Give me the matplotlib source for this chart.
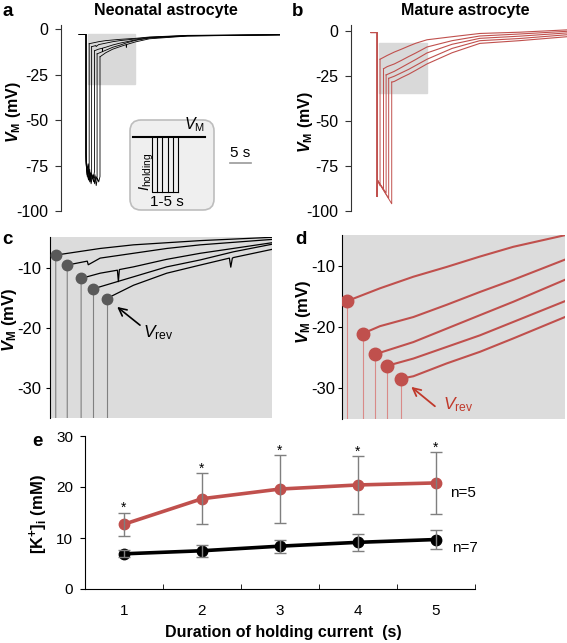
import numpy as np
import matplotlib
matplotlib.use("Agg")
import matplotlib.pyplot as plt
from matplotlib.patches import Rectangle, FancyBboxPatch

plt.rcParams['font.family'] = ['Liberation Sans', 'DejaVu Sans']
plt.rcParams['axes.unicode_minus'] = False
plt.rcParams['mathtext.fontset'] = 'custom'
plt.rcParams['mathtext.rm'] = 'Liberation Sans'
plt.rcParams['mathtext.it'] = 'Liberation Sans:italic'
plt.rcParams['mathtext.bf'] = 'Liberation Sans:bold'
plt.rcParams['mathtext.bfit'] = 'Liberation Sans:bold:italic'

RED = '#C0504D'

# ---- neonatal astrocyte (panels a, c): time in s, voltage in mV
neo_start = 4.3
neo_onset = 5.94
neo_base = -2.8
neo_bottom = [
    [-68, -78, -74, -80],
    [-70, -80, -76, -83, -79, -81],
    [-72, -79, -82, -77, -84, -80, -82, -78],
    [-73, -81, -78, -84, -79, -82, -80, -85, -81, -83],
    [-74, -80, -83, -79, -85, -81, -84, -80, -86, -82, -84, -81],
]
neo_rec_t = [
    [6.69, 8.93, 10.61, 12.29, 13.98, 17.6, 21, 30, 52],
    [7.27, 8.28, 8.33, 8.93, 10.61, 12.29, 13.98, 17.6, 21, 30, 52],
    [7.97, 8.93, 9.8, 9.85, 9.9, 10.61, 12.29, 13.98, 17.6, 21, 30, 52],
    [8.57, 10.61, 12.29, 13.98, 15.66, 17.6, 21, 30, 52],
    [9.26, 10.61, 12.29, 13.98, 15.45, 15.52, 15.6, 15.66, 17.6, 21, 30, 52],
]
neo_rec_v = [
    [-7.9, -6.8, -6.2, -5.85, -5.5, -4.95, -4.2, -3.3, -2.9],
    [-9.55, -8.9, -9.5, -8.4, -7.6, -6.8, -6.2, -5.3, -4.4, -3.4, -3.0],
    [-11.76, -10.9, -10.4, -12.3, -10.3, -9.85, -8.6, -7.6, -5.85, -4.6, -3.5, -3.0],
    [-13.5, -11.5, -9.85, -8.7, -7.35, -6.1, -4.8, -3.6, -3.0],
    [-15.1, -12.9, -10.9, -9.55, -8.4, -9.9, -8.4, -8.3, -6.95, -5.2, -3.7, -3.0],
]

# ---- mature astrocyte (panels b, d)
mat_start = 4.75
mat_onset = 6.2
mat_base = -1.0
mat_bottom_start = [-92, -83]
mat_bottom_end = [-86, -88, -90, -93, -96]
mat_rec_t = [
    [6.9, 8.59, 10.3, 12.0, 13.7, 15.41, 18.05, 24, 30.6, 40, 51.3],
    [7.72, 8.59, 10.3, 12.0, 13.7, 15.41, 18.05, 24, 30.6, 40, 51.3],
    [8.34, 10.3, 12.0, 13.7, 15.41, 18.05, 24, 30.6, 40, 51.3],
    [8.95, 10.3, 12.0, 13.7, 15.41, 18.05, 24, 30.6, 40, 51.3],
    [9.67, 10.3, 12.0, 13.7, 15.41, 18.05, 24, 30.6, 40, 51.3],
]
mat_rec_v = [
    [-15.8, -13.7, -11.8, -10.2, -8.5, -6.9, -5.0, -3.3, -1.5, -0.8, 0.5],
    [-21.1, -19.9, -18.4, -16.4, -14.3, -12.3, -9.0, -5.5, -2.9, -1.8, -0.3],
    [-24.5, -22.5, -20.3, -18.1, -15.9, -12.3, -7.5, -4.2, -3.0, -1.2],
    [-26.4, -25.2, -23.3, -21.4, -19.2, -15.8, -9.8, -5.5, -4.3, -2.2],
    [-28.5, -28.1, -26.0, -24.1, -21.9, -18.4, -12.2, -7.0, -5.5, -3.3],
]

# ---- panel e
duration = [1, 2, 3, 4, 5]
mature_k = [12.7, 17.7, 19.6, 20.4, 20.8]
mature_err = [2.3, 5.0, 6.7, 5.6, 6.1]
neonatal_k = [6.9, 7.5, 8.4, 9.15, 9.7]
neonatal_err = [0.7, 1.2, 1.3, 1.7, 1.85]

W, H = 567, 643
fig = plt.figure(figsize=(W / 100, H / 100), dpi=100)


def add_ax(left, top, right, bottom):
    return fig.add_axes([left / W, 1 - bottom / H, (right - left) / W, (bottom - top) / H])


def only_left(ax, color='#333333'):
    for s in ['top', 'right', 'bottom']:
        ax.spines[s].set_visible(False)
    ax.spines['left'].set_color(color)
    ax.set_xticks([])


def neo_traces(ax, step_color, step_lw, rec_lw):
    for k in range(5):
        off = neo_rec_t[k][0]
        bot = neo_bottom[k]
        st = [neo_start, neo_onset] + list(np.linspace(neo_onset, off, len(bot))) + [off]
        sv = [neo_base, neo_base] + bot + [neo_rec_v[k][0]]
        ax.plot(st, sv, color=step_color, lw=step_lw)
        ax.plot(neo_rec_t[k], neo_rec_v[k], color='k', lw=rec_lw)


def mat_traces(ax, step_color, step_lw, rec_lw):
    for k in range(5):
        off = mat_rec_t[k][0]
        st = [mat_start, mat_onset, mat_onset, mat_onset + 0.1, off, off]
        sv = [mat_base, mat_base] + mat_bottom_start + [mat_bottom_end[k], mat_rec_v[k][0]]
        ax.plot(st, sv, color=step_color, lw=step_lw)
        ax.plot(mat_rec_t[k], mat_rec_v[k], color=RED, lw=rec_lw)


ylab = r'$\mathbfit{V}_{\mathbf{M}}$ (mV)'

# ---------------- a
ax = add_ax(61, 25, 280, 211)
ax.set_xlim(0, 52)
ax.set_ylim(-100, 2.4)
only_left(ax)
ax.set_yticks([0, -25, -50, -75, -100])
ax.tick_params(axis='y', labelsize=11.5, length=4.3, pad=5, color='#333333')
ax.add_patch(Rectangle((6.4, -30.1), 11.2, 27.5, color='#d9d9d9', zorder=0))
neo_traces(ax, 'k', 0.6, 0.6)
ax.plot([40.1, 45.1], [-73.6, -73.6], color='#999999', lw=1.2)
ax.text(42.6, -67.9, '5 s', ha='center', va='center', fontsize=11)
ax.set_ylabel(ylab, fontsize=11.5, fontweight='bold')
ax.yaxis.set_label_coords(-0.174, 0.53)

# inset schematic
axi = add_ax(128, 118, 216, 212)
axi.set_xlim(0, 88)
axi.set_ylim(94, 0)
axi.axis('off')
axi.add_patch(FancyBboxPatch((2, 2), 84, 90, boxstyle='round,pad=0,rounding_size=11',
                             facecolor='#efefef', edgecolor='#bdbdbd', lw=1.2))
axi.plot([4.7, 77], [18.7, 18.7], color='k', lw=1.5)
axi.plot([23.7, 23.7, 50.3], [18.7, 73.7, 73.7], color='k', lw=0.8)
for xx in [28.7, 34.3, 39.7, 44.7, 50.3]:
    axi.plot([xx, xx], [18.7, 73.7], color='k', lw=0.8)
axi.text(77, 16, r'$V_{\mathrm{M}}$', ha='right', va='bottom', fontsize=11.5)
axi.text(18.5, 54, r'$I_{\mathrm{holding}}$', ha='center', va='center', rotation=90, fontsize=10.5)
axi.text(39.3, 84, '1-5 s', ha='center', va='center', fontsize=11)

# ---------------- b
ax = add_ax(351, 25, 567, 211)
ax.set_xlim(0, 51.3)
ax.set_ylim(-100, 3.2)
only_left(ax)
ax.set_yticks([0, -25, -50, -75, -100])
ax.tick_params(axis='y', labelsize=11.5, length=4.3, pad=5, color='#333333')
ax.add_patch(Rectangle((6.65, -34.6), 11.4, 27.6, color='#d9d9d9', zorder=0))
mat_traces(ax, RED, 0.7, 0.8)
ax.set_ylabel(ylab, fontsize=11.5, fontweight='bold')
ax.yaxis.set_label_coords(-0.167, 0.476)

# ---------------- c
ax = add_ax(50, 237, 272, 418)
ax.set_facecolor('#dcdcdc')
ax.set_xlim(6.4, 17.6)
ax.set_ylim(-34.9, -4.9)
only_left(ax, 'k')
ax.set_yticks([-10, -20, -30])
ax.tick_params(axis='y', labelsize=12, length=3, pad=3)
neo_traces(ax, '#808080', 0.8, 0.9)
ax.plot([t[0] for t in neo_rec_t], [v[0] for v in neo_rec_v], 'o', color='#595959',
        ms=7.5, zorder=5)
ax.annotate('', xy=(9.68, -16.2), xytext=(11.05, -19.8),
            arrowprops=dict(arrowstyle='->', lw=1.2, color='k', mutation_scale=14))
ax.text(11.1, -20.8, r'$V_{\mathrm{rev}}$', ha='left', va='center', fontsize=12.5)
ax.set_ylabel(ylab, fontsize=12, fontweight='bold')
ax.yaxis.set_label_coords(-0.14, 0.54)

# ---------------- d
ax = add_ax(342, 235, 565, 419)
ax.set_facecolor('#dcdcdc')
ax.set_xlim(6.65, 18.05)
ax.set_ylim(-35.1, -4.97)
only_left(ax, 'k')
ax.set_yticks([-10, -20, -30])
ax.tick_params(axis='y', labelsize=12, length=3, pad=1.5)
mat_traces(ax, '#d98a88', 0.8, 1.5)
ax.plot([t[0] for t in mat_rec_t], [v[0] for v in mat_rec_v], 'o', color=RED,
        ms=9, zorder=5)
ax.annotate('', xy=(10.08, -29.55), xytext=(11.51, -33.3),
            arrowprops=dict(arrowstyle='->', lw=1.3, color='#c0392b', mutation_scale=14))
ax.text(11.8, -32.8, r'$V_{\mathrm{rev}}$', ha='left', va='center', fontsize=12.5,
        color='#c0392b')
ax.set_ylabel(ylab, fontsize=12, fontweight='bold')
ax.yaxis.set_label_coords(-0.13, 0.58)

# ---------------- e
ax = add_ax(85, 436, 475, 589)
ax.set_xlim(0.5, 5.5)
ax.set_ylim(0, 30)
ax.spines['top'].set_visible(False)
ax.spines['right'].set_visible(False)
ax.set_xticks(duration)
ax.set_xticks([1.5, 2.5, 3.5, 4.5, 5.5], minor=True)
ax.tick_params(axis='x', which='major', length=0, pad=11, labelsize=11)
ax.tick_params(axis='x', which='minor', direction='in', length=3.6)
ax.set_yticks([0, 10, 20, 30])
ax.tick_params(axis='y', labelsize=11, length=3.6, pad=5)
ax.plot(duration, mature_k, '-o', color=RED, lw=2.6, ms=7.5, zorder=3, clip_on=False)
ax.plot(duration, neonatal_k, '-o', color='k', lw=2.6, ms=7.5, zorder=3, clip_on=False)
ax.errorbar(duration, mature_k, yerr=mature_err, fmt='none', ecolor='#7f7f7f',
            elinewidth=1, capsize=4.3, capthick=1, zorder=4)
ax.errorbar(duration, neonatal_k, yerr=neonatal_err, fmt='none', ecolor='#7f7f7f',
            elinewidth=1, capsize=4.3, capthick=1, zorder=4)
for x, m, e in zip(duration, mature_k, mature_err):
    ax.text(x, m + e + 0.1, '*', ha='center', va='baseline', fontsize=10)
ax.text(5.35, 18.8, 'n=5', ha='center', va='center', fontsize=11)
ax.text(5.37, 8.0, 'n=7', ha='center', va='center', fontsize=11)
ax.set_ylabel(r'[K$^{\mathbf{+}}$]$_{\mathbf{i}}$ (mM)', fontsize=12, fontweight='bold')
ax.yaxis.set_label_coords(-0.09, 0.49)

# ---------------- figure text
fig.text(165.8 / W, 1 - 11 / H, 'Neonatal astrocyte', ha='center', va='center',
         fontsize=11.5, fontweight='bold')
fig.text(465 / W, 1 - 11 / H, 'Mature astrocyte', ha='center', va='center',
         fontsize=11.5, fontweight='bold')
fig.text(283 / W, 1 - 632 / H, 'Duration of holding current  (s)', ha='center',
         va='center', fontsize=11.5, fontweight='bold')
for lab, x, y in [('a', 8, 12), ('b', 298, 11), ('c', 7.5, 239), ('d', 301, 239), ('e', 37, 442)]:
    fig.text(x / W, 1 - y / H, lab, ha='center', va='center', fontsize=13.5, fontweight='bold')

fig.savefig('out.png', dpi=100)
